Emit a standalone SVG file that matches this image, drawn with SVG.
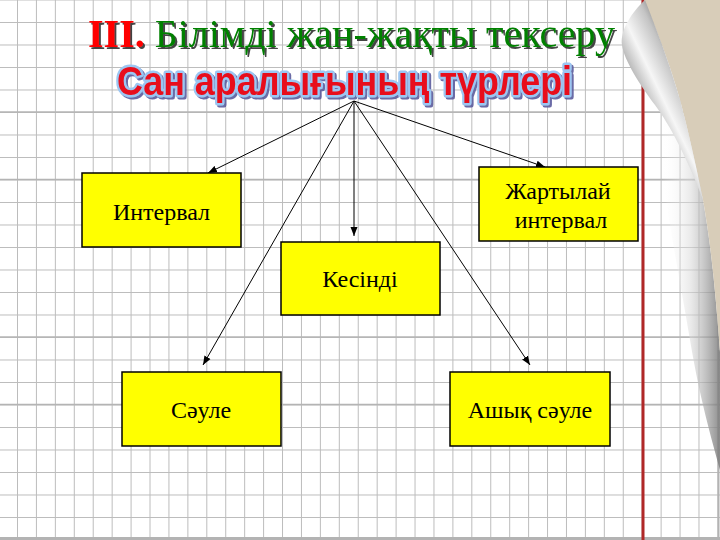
<svg xmlns="http://www.w3.org/2000/svg" width="720" height="540" viewBox="0 0 720 540">
  <defs>
    <pattern id="grid" patternUnits="userSpaceOnUse" x="17" y="-0.5" width="18.93" height="22.5">
      <path d="M0.5,0 V22.5 M0,0.5 H18.93" stroke="#bcbcbc" stroke-width="1" fill="none"/>
    </pattern>
    <marker id="arr" markerUnits="userSpaceOnUse" markerWidth="10" markerHeight="8" refX="9" refY="4" orient="auto">
      <path d="M0,0.5 L9,4 L0,7.5 Z" fill="#000"/>
    </marker>
    <filter id="tshadow" x="-5%" y="-20%" width="115%" height="150%">
      <feDropShadow dx="2" dy="2" stdDeviation="0.4" flood-color="#303030" flood-opacity="0.9"/>
    </filter>
    <filter id="sshadow" x="-5%" y="-20%" width="115%" height="150%">
      <feDropShadow dx="2" dy="2" stdDeviation="0.3" flood-color="#5c5c9c" flood-opacity="0.9"/>
    </filter>
    <linearGradient id="curlG" gradientUnits="userSpaceOnUse" x1="622" y1="62" x2="676" y2="36">
      <stop offset="0" stop-color="#a8a8a8"/>
      <stop offset="0.35" stop-color="#f6f6f6"/>
      <stop offset="0.7" stop-color="#c4c4c4"/>
      <stop offset="1" stop-color="#6e6e6e"/>
    </linearGradient>
    <linearGradient id="shadeG" gradientUnits="userSpaceOnUse" x1="662" y1="0" x2="720" y2="0">
      <stop offset="0" stop-color="#ffffff" stop-opacity="0"/>
      <stop offset="0.5" stop-color="#d8d8d8" stop-opacity="0.55"/>
      <stop offset="1" stop-color="#7a7a7a" stop-opacity="0.85"/>
    </linearGradient>
    <style>
      .box rect { fill: #ffff00; stroke: #000; stroke-width: 1.5; }
      .box text { font-family: "Liberation Serif", "Times New Roman", serif; font-size: 24px; fill: #000; text-anchor: middle; }
      .conn line { stroke: #000; stroke-width: 1; marker-end: url(#arr); }
    </style>
  </defs>

  <!-- background -->
  <rect width="720" height="540" fill="#ffffff"/>
  <rect width="720" height="540" fill="url(#grid)"/>
  <g stroke="#b4b4b4" stroke-width="1.6">
    <line x1="0" y1="112" x2="720" y2="112"/>
    <line x1="0" y1="179.5" x2="720" y2="179.5"/>
    <line x1="0" y1="337" x2="720" y2="337"/>
    <line x1="0" y1="404.5" x2="720" y2="404.5"/>
  </g>
  <line x1="0" y1="538.5" x2="720" y2="538.5" stroke="#b3b3b3" stroke-width="3"/>
  <line x1="718.5" y1="350" x2="718.5" y2="540" stroke="#b3b3b3" stroke-width="2"/>
  <line x1="643" y1="0" x2="643" y2="540" stroke="#b02828" stroke-width="3"/>

  <!-- page curl -->
  <path d="M680,100 C690,130 700,170 703,200 C712,250 716,300 720,352 L720,470 C712,440 700,400 690,340 C680,280 668,220 660,160 C655,130 665,115 680,100 Z" fill="url(#shadeG)"/>
  <path d="M644,0 L720,0 L720,352 C716,300 712,250 703,200 C696,165 688,130 680,100 C670,65 658,33 644,0 Z" fill="#d8cdb9"/>
  <path d="M645,0 C632,12 620,30 622,45 C624,60 640,85 655,105 C670,125 688,160 703,200 C696,165 688,130 680,100 C670,65 658,33 645,0 Z" fill="url(#curlG)"/>

  <!-- titles -->
  <text x="88" y="47" font-family="Liberation Serif, Times New Roman, serif" font-size="40" filter="url(#tshadow)"><tspan fill="#ff0000" font-weight="bold">III.</tspan><tspan fill="#008000"> Білімді жан-жақты тексеру</tspan></text>
  <text x="117" y="95" font-family="Liberation Sans, Arial, sans-serif" font-size="40" font-weight="bold" fill="#e8101a" stroke="#9cc6f2" stroke-width="5" stroke-linejoin="round" paint-order="stroke" textLength="455" lengthAdjust="spacingAndGlyphs" filter="url(#sshadow)">Сан аралығының түрлері</text>

  <!-- connectors -->
  <g class="conn" id="connectors">
    <line x1="354" y1="101" x2="208" y2="173"/>
    <line x1="354" y1="101" x2="354" y2="236"/>
    <line x1="354" y1="101" x2="545" y2="167"/>
    <line x1="354" y1="101" x2="203" y2="365"/>
    <line x1="354" y1="101" x2="530" y2="365"/>
  </g>

  <!-- nodes -->
  <g class="box" id="node-interval">
    <rect x="82" y="173" width="159" height="74"/>
    <text x="161.5" y="220">Интервал</text>
  </g>
  <g class="box" id="node-kesindi">
    <rect x="281" y="242" width="159" height="73"/>
    <text x="360" y="287">Кесінді</text>
  </g>
  <g class="box" id="node-zhartylai">
    <rect x="479" y="167" width="159" height="74"/>
    <text x="558" y="199">Жартылай</text>
    <text x="561" y="228">интервал</text>
  </g>
  <g class="box" id="node-saule">
    <rect x="122" y="372" width="159" height="74"/>
    <text x="201" y="418">Сәуле</text>
  </g>
  <g class="box" id="node-ashyk">
    <rect x="450" y="372" width="160" height="74"/>
    <text x="530" y="418">Ашық сәуле</text>
  </g>
</svg>
